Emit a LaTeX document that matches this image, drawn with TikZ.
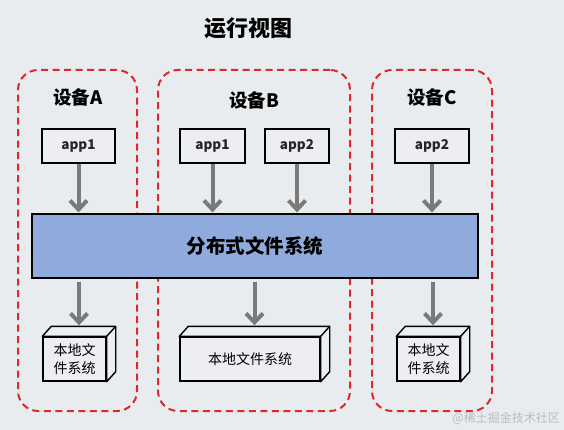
\documentclass[tikz,border=0pt]{standalone}
\usepackage{fontspec}
\setmainfont{Noto Sans CJK SC}
\usetikzlibrary{arrows.meta,calc}
\definecolor{bg}{HTML}{E9ECEF}
\definecolor{facebg}{HTML}{ECEEF1}
\definecolor{devred}{HTML}{DC2A2A}
\definecolor{arrgray}{HTML}{7A7A7A}
\definecolor{dfsblue}{HTML}{8FAADC}
\definecolor{wmgray}{HTML}{B9BDC3}
\begin{document}
\begin{tikzpicture}[x=1pt,y=-1pt,
  devbox/.style={draw=devred, line width=2pt, dash pattern=on 7pt off 4.5pt, rounded corners=20pt, inner sep=0pt},
  devlabel/.style={font=\fontsize{18.5}{22}\selectfont\bfseries, inner sep=0pt},
  appbox/.style={draw=black, line width=1.4pt, fill=facebg, minimum height=34pt, inner sep=0pt, font=\fontsize{13.5}{16}\selectfont\bfseries, text=black!85},
  dfsbox/.style={draw=black, line width=1.2pt, fill=dfsblue, inner sep=0pt, font=\fontsize{19.5}{24}\selectfont\bfseries},
  arr/.style={draw=arrgray, line width=4pt, -{Straight Barb[length=9pt,width=17pt]}},
  fsface/.style={draw=black, line width=1.4pt, fill=facebg, minimum height=44pt, inner sep=0pt, align=center, font=\fontsize{14}{18}\selectfont},
  fsline/.style={draw=black, line width=1.4pt, fill=facebg, line join=round}
]
\fill[bg] (0,0) rectangle (564,430);
\useasboundingbox (0,0) rectangle (564,430);

% title
\node[font=\fontsize{22}{26}\selectfont\bfseries, inner sep=0pt] (title) at (248,28) {运行视图};

% device boxes
\node[devbox, minimum width=119pt, minimum height=341pt] (devA) at (77.5,240.5) {};
\node[devbox, minimum width=192pt, minimum height=341pt] (devB) at (254,240.5) {};
\node[devbox, minimum width=120pt, minimum height=341pt] (devC) at (432,240.5) {};

\node[devlabel] (labA) at (78,97) {设备A};
\node[devlabel] (labB) at (254,100) {设备B};
\node[devlabel] (labC) at (432,97) {设备C};

% apps
\node[appbox, minimum width=73pt] (a1) at (78.5,146) {app1};
\node[appbox, minimum width=65pt] (b1) at (212.5,146) {app1};
\node[appbox, minimum width=64pt] (b2) at (297,146) {app2};
\node[appbox, minimum width=74pt] (c2) at (432,146) {app2};

% distributed fs
\node[dfsbox, minimum width=446pt, minimum height=64pt] (dfs) at (255,246) {分布式文件系统};

% local fs cuboids
\node[fsface, minimum width=63pt] (fsA) at (74.5,359) {本地文\\件系统};
\node[fsface, minimum width=140pt] (fsB) at (250,359) {本地文件系统};
\node[fsface, minimum width=63pt] (fsC) at (428.5,359) {本地文\\件系统};

\foreach \n in {fsA,fsB,fsC}{
  \draw[fsline] (\n.north west) -- ++(9,-10) -- ($(\n.north east)+(9,-10)$) -- ($(\n.south east)+(9,-10)$) -- (\n.south east) -- (\n.north east) -- cycle;
  \draw[fsline] (\n.north east) -- ++(9,-10);
}

\coordinate (tA) at ($(fsA.north)+(4.5,-11)$);
\coordinate (tB) at ($(fsB.north)+(4.5,-11)$);
\coordinate (tC) at ($(fsC.north)+(4.5,-11)$);

% arrows
\draw[arr] (a1.south) -- ($(a1.south |- dfs.north)+(0,-1)$);
\draw[arr] (b1.south) -- ($(b1.south |- dfs.north)+(0,-1)$);
\draw[arr] (b2.south) -- ($(b2.south |- dfs.north)+(0,-1)$);
\draw[arr] (c2.south) -- ($(c2.south |- dfs.north)+(0,-1)$);

\draw[arr] ($(tA |- dfs.south)+(0,3)$) -- (tA);
\draw[arr] ($(tB |- dfs.south)+(0,3)$) -- (tB);
\draw[arr] ($(tC |- dfs.south)+(0,3)$) -- (tC);

% watermark
\node[font=\fontsize{12}{14}\selectfont, text=wmgray, anchor=east, inner sep=0pt] (wm) at (560,418) {@稀土掘金技术社区};
\end{tikzpicture}
\end{document}
